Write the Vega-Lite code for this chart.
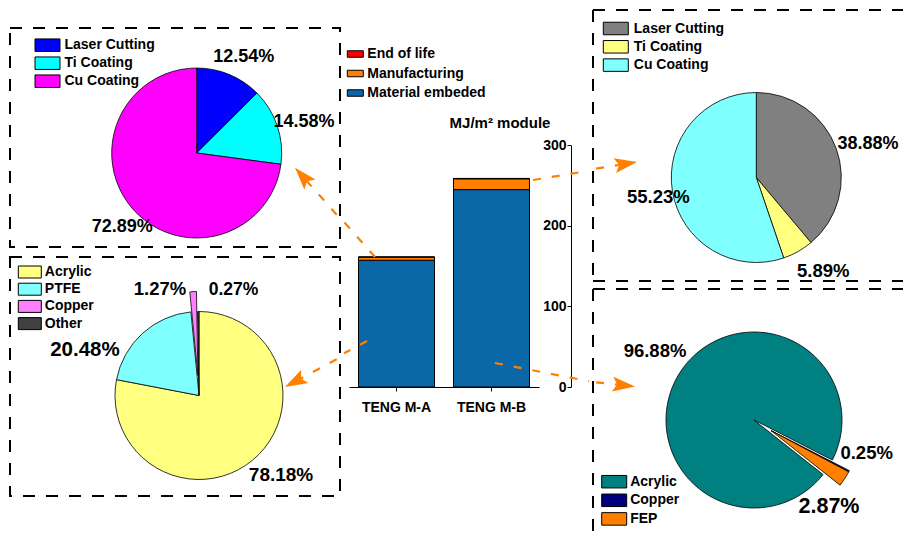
{
  "$schema": "https://vega.github.io/schema/vega-lite/v6.json",
  "background": "white",
  "padding": {"left": 9, "top": 8, "right": 0, "bottom": 0},
  "spacing": 0,
  "bounds": "full",
  "resolve": {"scale": {"color": "independent", "theta": "independent"}, "legend": {"color": "independent"}},
  "config": {
    "font": "Liberation Sans",
    "view": {"stroke": null},
    "axis": {"labelFont": "Liberation Sans", "titleFont": "Liberation Sans", "labelColor": "black", "titleColor": "black", "domainColor": "black", "tickColor": "black", "grid": false},
    "legend": {"labelFont": "Liberation Sans", "labelFontSize": 14, "labelFontWeight": "bold", "labelColor": "black", "padding": 0, "symbolStrokeColor": "black", "symbolStrokeWidth": 1, "symbolOpacity": 1}
  },
  "hconcat": [
    {
      "spacing": 8,
      "resolve": {"scale": {"color": "independent", "theta": "independent"}, "legend": {"color": "independent"}},
      "vconcat": [
        {"width": 330, "height": 8, "data": {"values": [{}]}, "mark": {"type": "text"}, "encoding": {"text": {"value": ""}}},
        {
          "width": 330, "height": 219,
          "view": {"stroke": "black", "strokeWidth": 2, "strokeDash": [12, 11]},
          "layer": [
            {
              "data": {"values": [
                {"part": "Laser Cutting", "share": 0.1254},
                {"part": "Ti Coating", "share": 0.1458},
                {"part": "Cu Coating", "share": 0.7289}
              ]},
              "transform": [{"window": [{"op": "row_number", "as": "idx"}]}],
              "layer": [
                {
                  "mark": {"type": "arc", "radius": 85, "stroke": "black", "strokeWidth": 0.8, "xOffset": 21.7, "yOffset": 15.5},
                  "encoding": {
                    "theta": {"field": "share", "type": "quantitative", "stack": true},
                    "order": {"field": "idx", "type": "quantitative"},
                    "color": {"field": "part", "type": "nominal",
                      "scale": {"domain": ["Laser Cutting", "Ti Coating", "Cu Coating"], "range": ["#0000FF", "#00FFFF", "#FF00FF"]},
                      "legend": {"orient": "none", "legendX": 25, "legendY": 10.2, "title": null, "symbolType": "M-1.923,-0.962H1.923V0.962H-1.923Z", "symbolSize": 169, "symbolOffset": 5.5, "labelOffset": 10, "rowPadding": 0}}
                  }
                },
                {
                  "mark": {"type": "text", "clip": true, "radius": 107, "xOffset": 21.7, "yOffset": 15.5, "dx": 6, "dy": 3.3, "fontSize": 18, "fontWeight": "bold", "color": "black"},
                  "encoding": {
                    "theta": {"field": "share", "type": "quantitative", "stack": true},
                    "order": {"field": "idx", "type": "quantitative"},
                    "detail": {"field": "part", "type": "nominal"},
                    "text": {"field": "share", "type": "quantitative", "format": ".2%"}
                  }
                }
              ]
            },
            {
              "data": {"values": [{}]},
              "mark": {"type": "rule", "color": "#FF8000", "strokeWidth": 2.2, "strokeDash": [8, 11]},
              "encoding": {
                "x": {"datum": 0.99, "type": "quantitative", "scale": {"domain": [0, 1], "nice": false, "zero": false}, "axis": null},
                "x2": {"datum": 0.8888},
                "y": {"datum": 0.147, "type": "quantitative", "scale": {"domain": [0, 1], "nice": false, "zero": false}, "axis": null},
                "y2": {"datum": 0.3192}
              }
            },
            {
              "data": {"values": [{}]},
              "mark": {"type": "point", "shape": "M0,-1L0.6,0.8L0,0.45L-0.6,0.8Z", "size": 625, "filled": true, "color": "#FF8000", "opacity": 1, "angle": 318.5},
              "encoding": {
                "x": {"datum": 0.8888, "type": "quantitative", "scale": {"domain": [0, 1], "nice": false, "zero": false}, "axis": null},
                "y": {"datum": 0.3192, "type": "quantitative", "scale": {"domain": [0, 1], "nice": false, "zero": false}, "axis": null}
              }
            }
          ]
        },
        {
          "width": 330, "height": 239,
          "view": {"stroke": "black", "strokeWidth": 2, "strokeDash": [12, 11]},
          "layer": [
            {
              "data": {"values": [
                {"part": "Acrylic", "share": 0.7818},
                {"part": "PTFE", "share": 0.2048},
                {"part": "Copper", "share": 0.0127},
                {"part": "Other", "share": 0.0027}
              ]},
              "transform": [{"window": [{"op": "row_number", "as": "idx"}]}],
              "encoding": {
                "theta": {"field": "share", "type": "quantitative", "stack": true},
                "order": {"field": "idx", "type": "quantitative"}
              },
              "layer": [
                {
                  "mark": {"type": "arc", "radius": 84, "stroke": "black", "strokeWidth": 0.8, "xOffset": 24, "yOffset": 19},
                  "encoding": {
                    "color": {"field": "part", "type": "nominal",
                      "scale": {"domain": ["Acrylic", "PTFE", "Copper", "Other"], "range": ["#FFFF80", "#80FFFF", "#FF80FF", "#404040"]},
                      "legend": {"orient": "none", "legendX": 8.3, "legendY": 8, "title": null, "symbolType": "M-1.769,-0.923H1.769V0.923H-1.769Z", "symbolSize": 169, "symbolOffset": 4.5, "labelOffset": 8, "rowPadding": 1.2}},
                    "opacity": {"condition": {"test": "datum.part === 'Copper'", "value": 0}, "value": 1}
                  }
                },
                {
                  "mark": {"type": "arc", "radius": 84, "stroke": "black", "strokeWidth": 0.8, "xOffset": 22.9, "yOffset": -1},
                  "encoding": {
                    "color": {"field": "part", "type": "nominal", "legend": null},
                    "opacity": {"condition": {"test": "datum.part === 'Copper'", "value": 1}, "value": 0}
                  }
                },
                {
                  "mark": {"type": "text", "clip": true, "radius": 115, "xOffset": 24, "yOffset": 19, "dx": 8.8, "dy": -9.2, "fontSize": 19, "fontWeight": "bold", "color": "black"},
                  "encoding": {"detail": {"field": "part", "type": "nominal"},
                    "text": {"condition": {"test": "datum.part === 'Acrylic'", "field": "share", "type": "quantitative", "format": ".2%"}, "value": ""}}
                },
                {
                  "mark": {"type": "text", "clip": true, "radius": 115, "xOffset": 24, "yOffset": 19, "dx": -36.6, "dy": 39.5, "fontSize": 20.5, "fontWeight": "bold", "color": "black"},
                  "encoding": {"detail": {"field": "part", "type": "nominal"},
                    "text": {"condition": {"test": "datum.part === 'PTFE'", "field": "share", "type": "quantitative", "format": ".2%"}, "value": ""}}
                },
                {
                  "mark": {"type": "text", "clip": true, "radius": 110, "xOffset": 24, "yOffset": 19, "dx": -32.8, "dy": 3.6, "fontSize": 18.5, "fontWeight": "bold", "color": "black"},
                  "encoding": {"detail": {"field": "part", "type": "nominal"},
                    "text": {"condition": {"test": "datum.part === 'Copper'", "field": "share", "type": "quantitative", "format": ".2%"}, "value": ""}}
                },
                {
                  "mark": {"type": "text", "clip": true, "radius": 110, "xOffset": 24, "yOffset": 19, "dx": 35.4, "dy": 4.5, "fontSize": 17.5, "fontWeight": "bold", "color": "black"},
                  "encoding": {"detail": {"field": "part", "type": "nominal"},
                    "text": {"condition": {"test": "datum.part === 'Other'", "field": "share", "type": "quantitative", "format": ".2%"}, "value": ""}}
                }
              ]
            },
            {
              "data": {"values": [{}]},
              "mark": {"type": "rule", "color": "#FF8000", "strokeWidth": 2.2, "strokeDash": [8, 11]},
              "encoding": {
                "x": {"datum": 0.99, "type": "quantitative", "scale": {"domain": [0, 1], "nice": false, "zero": false}, "axis": null},
                "x2": {"datum": 0.8667},
                "y": {"datum": 0.572, "type": "quantitative", "scale": {"domain": [0, 1], "nice": false, "zero": false}, "axis": null},
                "y2": {"datum": 0.4808}
              }
            },
            {
              "data": {"values": [{}]},
              "mark": {"type": "point", "shape": "M0,-1L0.6,0.8L0,0.45L-0.6,0.8Z", "size": 625, "filled": true, "color": "#FF8000", "opacity": 1, "angle": 241.8},
              "encoding": {
                "x": {"datum": 0.8667, "type": "quantitative", "scale": {"domain": [0, 1], "nice": false, "zero": false}, "axis": null},
                "y": {"datum": 0.4808, "type": "quantitative", "scale": {"domain": [0, 1], "nice": false, "zero": false}, "axis": null}
              }
            }
          ]
        }
      ]
    },
    {
      "width": 251, "height": 377,
      "view": {"stroke": null},
      "resolve": {"scale": {"x": "independent"}},
      "layer": [
        {
          "data": {"values": [
            {"module": "TENG M-A", "stage": "Material embeded", "energy": 157.3},
            {"module": "TENG M-A", "stage": "Manufacturing", "energy": 3.9},
            {"module": "TENG M-A", "stage": "End of life", "energy": 0.3},
            {"module": "TENG M-B", "stage": "Material embeded", "energy": 245.0},
            {"module": "TENG M-B", "stage": "Manufacturing", "energy": 13.4},
            {"module": "TENG M-B", "stage": "End of life", "energy": 0.5}
          ]},
          "mark": {"type": "bar", "stroke": "black", "strokeWidth": 1},
          "encoding": {
            "x": {"field": "module", "type": "nominal", "sort": null,
              "scale": {"range": [8, 198], "paddingInner": 0.2, "paddingOuter": 0.1},
              "axis": {"title": null, "labelAngle": 0, "labelFontSize": 14, "labelFontWeight": "bold", "tickSize": 4, "labelPadding": 9}},
            "y": {"field": "energy", "type": "quantitative", "stack": true,
              "scale": {"domain": [0, 300], "range": [377, 135.3], "nice": false},
              "axis": {"orient": "left", "offset": -230, "values": [0, 100, 200, 300], "tickSize": 4, "labelPadding": 1, "labelFontSize": 14, "labelFontWeight": "bold",
                "title": "MJ/m² module", "titleAngle": 0, "titleX": -71.5, "titleY": 112.7, "titleAlign": "center", "titleBaseline": "middle", "titleFontSize": 15, "titleFontWeight": "bold"}},
            "color": {"field": "stage", "type": "nominal",
              "scale": {"domain": ["End of life", "Manufacturing", "Material embeded"], "range": ["#FF0000", "#FF8000", "#0A67A8"]},
              "legend": {"orient": "none", "legendX": 6.3, "legendY": 37, "title": null, "symbolType": "M-1.231,-0.5H1.231V0.5H-1.231Z", "symbolSize": 169, "symbolOffset": 1, "labelOffset": 5, "rowPadding": 5.5}},
            "order": {"field": "stage", "type": "nominal", "sort": "descending"}
          }
        },
        {
          "data": {"values": [{}]},
          "mark": {"type": "rule", "color": "#FF8000", "strokeWidth": 2.2, "strokeDash": [8, 11]},
          "encoding": {
            "x": {"datum": 0.1355, "type": "quantitative", "scale": {"domain": [0, 1], "nice": false, "zero": false}, "axis": null},
            "x2": {"datum": 0.012},
            "y": {"datum": 161.4, "type": "quantitative"},
            "y2": {"datum": 204.8}
          }
        },
        {
          "data": {"values": [{}]},
          "mark": {"type": "rule", "color": "#FF8000", "strokeWidth": 2.2, "strokeDash": [8, 11]},
          "encoding": {
            "x": {"datum": 0.1036, "type": "quantitative", "scale": {"domain": [0, 1], "nice": false, "zero": false}, "axis": null},
            "x2": {"datum": 0.012},
            "y": {"datum": 57.1, "type": "quantitative"},
            "y2": {"datum": 41.8}
          }
        },
        {
          "data": {"values": [{}]},
          "mark": {"type": "rule", "color": "#FF8000", "strokeWidth": 2.2, "strokeDash": [8, 11]},
          "encoding": {
            "x": {"datum": 0.765, "type": "quantitative", "scale": {"domain": [0, 1], "nice": false, "zero": false}, "axis": null},
            "x2": {"datum": 0.988},
            "y": {"datum": 256.9, "type": "quantitative"},
            "y2": {"datum": 268.4}
          }
        },
        {
          "data": {"values": [{}]},
          "mark": {"type": "rule", "color": "#FF8000", "strokeWidth": 2.2, "strokeDash": [8, 11]},
          "encoding": {
            "x": {"datum": 0.6135, "type": "quantitative", "scale": {"domain": [0, 1], "nice": false, "zero": false}, "axis": null},
            "x2": {"datum": 0.988},
            "y": {"datum": 29.8, "type": "quantitative"},
            "y2": {"datum": 7.2}
          }
        }
      ]
    },
    {
      "spacing": 6,
      "resolve": {"scale": {"color": "independent", "theta": "independent"}, "legend": {"color": "independent"}},
      "vconcat": [
        {
          "width": 310, "height": 271,
          "view": {"stroke": null},
          "layer": [
            {
              "data": {"values": [
                {"part": "Laser Cutting", "share": 0.3888},
                {"part": "Ti Coating", "share": 0.0589},
                {"part": "Cu Coating", "share": 0.5523}
              ]},
              "transform": [{"window": [{"op": "row_number", "as": "idx"}]}],
              "encoding": {
                "theta": {"field": "share", "type": "quantitative", "stack": true},
                "order": {"field": "idx", "type": "quantitative"}
              },
              "layer": [
                {
                  "mark": {"type": "arc", "radius": 85, "stroke": "black", "strokeWidth": 0.8, "xOffset": 8.3, "yOffset": 32},
                  "encoding": {
                    "color": {"field": "part", "type": "nominal",
                      "scale": {"domain": ["Laser Cutting", "Ti Coating", "Cu Coating"], "range": ["#808080", "#FFFF80", "#80FFFF"]},
                      "legend": {"orient": "none", "legendX": 10.3, "legendY": 11.5, "title": null, "symbolType": "M-1.923,-0.962H1.923V0.962H-1.923Z", "symbolSize": 169, "symbolOffset": 5.5, "labelOffset": 11, "rowPadding": 0.3}}
                  }
                },
                {
                  "mark": {"type": "text", "clip": true, "radius": 120, "xOffset": 8.3, "yOffset": 32, "dx": -1, "dy": 7.3, "fontSize": 18, "fontWeight": "bold", "color": "black"},
                  "encoding": {"detail": {"field": "part", "type": "nominal"},
                    "text": {"condition": {"test": "datum.part === 'Laser Cutting'", "field": "share", "type": "quantitative", "format": ".2%"}, "value": ""}}
                },
                {
                  "mark": {"type": "text", "clip": true, "radius": 116, "xOffset": 8.3, "yOffset": 32, "dx": 10, "dy": -7.3, "fontSize": 18.5, "fontWeight": "bold", "color": "black"},
                  "encoding": {"detail": {"field": "part", "type": "nominal"},
                    "text": {"condition": {"test": "datum.part === 'Ti Coating'", "field": "share", "type": "quantitative", "format": ".2%"}, "value": ""}}
                },
                {
                  "mark": {"type": "text", "clip": true, "radius": 100, "xOffset": 8.3, "yOffset": 32, "dx": 0.7, "dy": 3.4, "fontSize": 18.5, "fontWeight": "bold", "color": "black"},
                  "encoding": {"detail": {"field": "part", "type": "nominal"},
                    "text": {"condition": {"test": "datum.part === 'Cu Coating'", "field": "share", "type": "quantitative", "format": ".2%"}, "value": ""}}
                }
              ]
            },
            {
              "data": {"values": [{}]},
              "mark": {"type": "rule", "color": "black", "strokeWidth": 2, "strokeDash": [12, 11]},
              "encoding": {
                "x": {"datum": 0, "type": "quantitative", "scale": {"domain": [0, 1], "nice": false, "zero": false}, "axis": null},
                "x2": {"datum": 1},
                "y": {"datum": 1, "type": "quantitative", "scale": {"domain": [0, 1], "nice": false, "zero": false}, "axis": null}
              }
            },
            {
              "data": {"values": [{}]},
              "mark": {"type": "rule", "color": "black", "strokeWidth": 2, "strokeDash": [12, 11]},
              "encoding": {
                "x": {"datum": 0, "type": "quantitative", "scale": {"domain": [0, 1], "nice": false, "zero": false}, "axis": null},
                "x2": {"datum": 1},
                "y": {"datum": 0, "type": "quantitative", "scale": {"domain": [0, 1], "nice": false, "zero": false}, "axis": null}
              }
            },
            {
              "data": {"values": [{}]},
              "mark": {"type": "rule", "color": "black", "strokeWidth": 2, "strokeDash": [12, 11]},
              "encoding": {
                "x": {"datum": 0, "type": "quantitative", "scale": {"domain": [0, 1], "nice": false, "zero": false}, "axis": null},
                "y": {"datum": 1, "type": "quantitative", "scale": {"domain": [0, 1], "nice": false, "zero": false}, "axis": null},
                "y2": {"datum": 0}
              }
            },
            {
              "data": {"values": [{}]},
              "mark": {"type": "rule", "color": "#FF8000", "strokeWidth": 2.2, "strokeDash": [8, 11]},
              "encoding": {
                "x": {"datum": 0.01, "type": "quantitative", "scale": {"domain": [0, 1], "nice": false, "zero": false}, "axis": null},
                "x2": {"datum": 0.1023},
                "y": {"datum": 0.4144, "type": "quantitative", "scale": {"domain": [0, 1], "nice": false, "zero": false}, "axis": null},
                "y2": {"datum": 0.4317}
              }
            },
            {
              "data": {"values": [{}]},
              "mark": {"type": "point", "shape": "M0,-1L0.6,0.8L0,0.45L-0.6,0.8Z", "size": 625, "filled": true, "color": "#FF8000", "opacity": 1, "angle": 80.7},
              "encoding": {
                "x": {"datum": 0.1023, "type": "quantitative", "scale": {"domain": [0, 1], "nice": false, "zero": false}, "axis": null},
                "y": {"datum": 0.4317, "type": "quantitative", "scale": {"domain": [0, 1], "nice": false, "zero": false}, "axis": null}
              }
            }
          ]
        },
        {
          "width": 310, "height": 243,
          "view": {"stroke": null},
          "layer": [
            {
              "data": {"values": [
                {"part": "Acrylic", "share": 0.9688},
                {"part": "Copper", "share": 0.0025},
                {"part": "FEP", "share": 0.0287}
              ]},
              "transform": [{"window": [{"op": "row_number", "as": "idx"}]}],
              "encoding": {
                "theta": {"field": "share", "type": "quantitative", "stack": true, "scale": {"range": [2.2393, 8.5225]}},
                "order": {"field": "idx", "type": "quantitative"}
              },
              "layer": [
                {
                  "mark": {"type": "arc", "radius": 88, "stroke": "black", "strokeWidth": 0.8, "xOffset": 6, "yOffset": 9.5},
                  "encoding": {
                    "color": {"field": "part", "type": "nominal",
                      "scale": {"domain": ["Acrylic", "Copper", "FEP"], "range": ["#008080", "#000080", "#FF8000"]},
                      "legend": {"orient": "none", "legendX": 8.7, "legendY": 185.7, "title": null, "symbolType": "M-1.923,-0.962H1.923V0.962H-1.923Z", "symbolSize": 169, "symbolOffset": 5.5, "labelOffset": 9, "rowPadding": 0.6}},
                    "opacity": {"condition": {"test": "datum.part === 'Acrylic'", "value": 1}, "value": 0}
                  }
                },
                {
                  "mark": {"type": "arc", "radius": 88, "stroke": "black", "strokeWidth": 0.8, "xOffset": 23, "yOffset": 20.1},
                  "encoding": {
                    "color": {"field": "part", "type": "nominal", "legend": null},
                    "opacity": {"condition": {"test": "datum.part === 'Acrylic'", "value": 0}, "value": 1}
                  }
                },
                {
                  "mark": {"type": "text", "clip": true, "radius": 120, "xOffset": 6, "yOffset": 9.5, "dx": 2, "dy": -4.4, "fontSize": 18.5, "fontWeight": "bold", "color": "black"},
                  "encoding": {"detail": {"field": "part", "type": "nominal"},
                    "text": {"condition": {"test": "datum.part === 'Acrylic'", "field": "share", "type": "quantitative", "format": ".2%"}, "value": ""}}
                },
                {
                  "mark": {"type": "text", "clip": true, "radius": 117, "xOffset": 6, "yOffset": 9.5, "dx": 8.9, "dy": -20.8, "fontSize": 18.5, "fontWeight": "bold", "color": "black"},
                  "encoding": {"detail": {"field": "part", "type": "nominal"},
                    "text": {"condition": {"test": "datum.part === 'Copper'", "field": "share", "type": "quantitative", "format": ".2%"}, "value": ""}}
                },
                {
                  "mark": {"type": "text", "clip": true, "radius": 115, "xOffset": 6, "yOffset": 9.5, "dx": -21.3, "dy": 23.8, "fontSize": 21.5, "fontWeight": "bold", "color": "black"},
                  "encoding": {"detail": {"field": "part", "type": "nominal"},
                    "text": {"condition": {"test": "datum.part === 'FEP'", "field": "share", "type": "quantitative", "format": ".2%"}, "value": ""}}
                }
              ]
            },
            {
              "data": {"values": [{}]},
              "mark": {"type": "rule", "color": "black", "strokeWidth": 2, "strokeDash": [12, 11]},
              "encoding": {
                "x": {"datum": 0, "type": "quantitative", "scale": {"domain": [0, 1], "nice": false, "zero": false}, "axis": null},
                "x2": {"datum": 1},
                "y": {"datum": 1, "type": "quantitative", "scale": {"domain": [0, 1], "nice": false, "zero": false}, "axis": null}
              }
            },
            {
              "data": {"values": [{}]},
              "mark": {"type": "rule", "color": "black", "strokeWidth": 2, "strokeDash": [12, 11]},
              "encoding": {
                "x": {"datum": 0, "type": "quantitative", "scale": {"domain": [0, 1], "nice": false, "zero": false}, "axis": null},
                "y": {"datum": 1, "type": "quantitative", "scale": {"domain": [0, 1], "nice": false, "zero": false}, "axis": null},
                "y2": {"datum": 0}
              }
            },
            {
              "data": {"values": [{}]},
              "mark": {"type": "rule", "color": "#FF8000", "strokeWidth": 2.2, "strokeDash": [8, 11]},
              "encoding": {
                "x": {"datum": 0.01, "type": "quantitative", "scale": {"domain": [0, 1], "nice": false, "zero": false}, "axis": null},
                "x2": {"datum": 0.0955},
                "y": {"datum": 0.616, "type": "quantitative", "scale": {"domain": [0, 1], "nice": false, "zero": false}, "axis": null},
                "y2": {"datum": 0.6041}
              }
            },
            {
              "data": {"values": [{}]},
              "mark": {"type": "point", "shape": "M0,-1L0.6,0.8L0,0.45L-0.6,0.8Z", "size": 625, "filled": true, "color": "#FF8000", "opacity": 1, "angle": 96.1},
              "encoding": {
                "x": {"datum": 0.0955, "type": "quantitative", "scale": {"domain": [0, 1], "nice": false, "zero": false}, "axis": null},
                "y": {"datum": 0.6041, "type": "quantitative", "scale": {"domain": [0, 1], "nice": false, "zero": false}, "axis": null}
              }
            }
          ]
        }
      ]
    }
  ]
}
